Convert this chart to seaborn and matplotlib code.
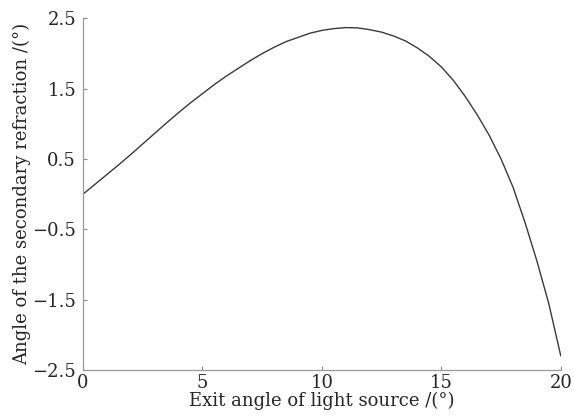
import numpy as np
import pandas as pd
import matplotlib
matplotlib.use("Agg")
import matplotlib.pyplot as plt
import seaborn as sns

# 读图得到的数据
exit_angle = [0, 0.5, 1, 1.5, 2, 2.5, 3, 3.5, 4, 4.5, 5, 5.5, 6, 6.5, 7, 7.5,
              8, 8.5, 9, 9.5, 10, 10.5, 11, 11.5, 12, 12.5, 13, 13.5, 14, 14.5,
              15, 15.5, 16, 16.5, 17, 17.5, 18, 18.5, 19, 19.5, 20]
refraction = [0, 0.14, 0.28, 0.42, 0.565, 0.715, 0.865, 1.015, 1.16, 1.30, 1.43,
              1.56, 1.68, 1.79, 1.90, 2.00, 2.09, 2.17, 2.23, 2.29, 2.33, 2.355,
              2.37, 2.365, 2.34, 2.305, 2.25, 2.18, 2.08, 1.96, 1.81, 1.62, 1.39,
              1.13, 0.84, 0.50, 0.10, -0.40, -0.95, -1.56, -2.30]
x_ticks = [0, 5, 10, 15, 20]
y_ticks = [-2.5, -1.5, -0.5, 0.5, 1.5, 2.5]

df = pd.DataFrame({"x": exit_angle, "y": refraction})

sns.set_style("ticks")
plt.rcParams['font.family'] = ['DejaVu Serif']
plt.rcParams['xtick.direction'] = 'in'
plt.rcParams['ytick.direction'] = 'in'

fig = plt.figure(figsize=(5.74, 4.19), dpi=100)
ax = fig.add_axes([0.1446, 0.117, 0.8324, 0.839])

sns.lineplot(data=df, x="x", y="y", ax=ax, color="#3a3a3a", lw=1.0)

ax.set_xlim(0, 20)
ax.set_ylim(-2.5, 2.5)
ax.set_xticks(x_ticks)
ax.set_yticks(y_ticks)
ax.set_xticklabels([str(v) for v in x_ticks])
ax.set_yticklabels([f"{v:.1f}".replace("-", "\u2212") for v in y_ticks])
ax.tick_params(length=3, width=0.8, color="#888888", labelsize=13)
ax.tick_params(axis="y", pad=5)
ax.tick_params(axis="x", pad=3)

sns.despine(ax=ax)
for s in ["left", "bottom"]:
    ax.spines[s].set_color("#999999")
    ax.spines[s].set_linewidth(0.9)

ax.set_xlabel("Exit angle of light source /(°)", fontsize=13, labelpad=0)
ax.set_ylabel("Angle of the secondary refraction /(°)", fontsize=13, labelpad=1)

fig.savefig("out.png", dpi=100)
